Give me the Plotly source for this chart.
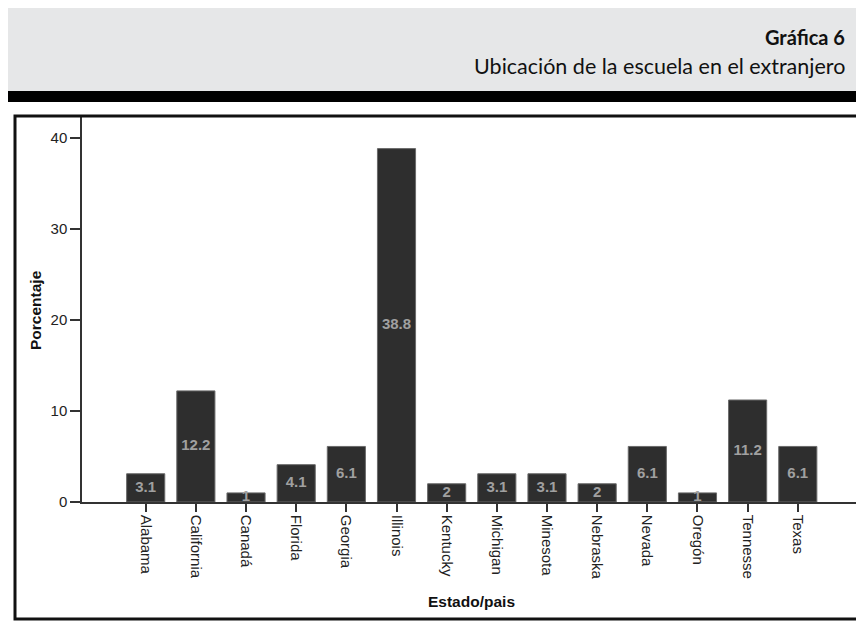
import plotly.graph_objects as go

categories = ["Alabama", "California", "Canadá", "Florida", "Georgia", "Illinois",
              "Kentucky", "Michigan", "Minesota", "Nebraska", "Nevada", "Oregón",
              "Tennesse", "Texas"]
values = [3.1, 12.2, 1, 4.1, 6.1, 38.8, 2, 3.1, 3.1, 2, 6.1, 1, 11.2, 6.1]
value_labels = ["3.1", "12.2", "1", "4.1", "6.1", "38.8", "2", "3.1", "3.1", "2",
                "6.1", "1", "11.2", "6.1"]
y_ticks = [0, 10, 20, 30, 40]

OFF = 8  # page body margin
W, H = 864 - OFF, 631 - 2 * OFF
L, R, T, B = 82 - OFF, 860 - OFF, 117 - OFF, 502 - OFF  # plot area in figure pixels


def px(x):
    return (x - OFF - L) / (R - L)


def py(y):
    return (B - (y - OFF)) / (B - T)


FONT = "Liberation Sans, Arial, sans-serif"

fig = go.Figure()
fig.add_trace(go.Bar(
    x=categories, y=values, width=0.76,
    marker=dict(color="#2e2e2e", line=dict(color="#6a6a6a", width=1)),
    hoverinfo="skip", showlegend=False,
))
fig.add_trace(go.Scatter(
    x=categories, y=[v / 2 for v in values], text=value_labels, mode="text",
    textposition="middle center",
    textfont=dict(family=FONT, size=15, color="#a0a0a0", weight="bold"),
    hoverinfo="skip", showlegend=False, cliponaxis=False,
))

shapes = [
    # header gray band
    dict(type="rect", xref="paper", yref="paper", x0=px(0), x1=px(880), y0=py(91), y1=py(8),
         fillcolor="#e6e7e8", line=dict(width=0), layer="below"),
    # black bar
    dict(type="rect", xref="paper", yref="paper", x0=px(0), x1=px(880), y0=py(102), y1=py(91),
         fillcolor="#000000", line=dict(width=0), layer="below"),
    # chart frame
    dict(type="rect", xref="paper", yref="paper", x0=px(15), x1=px(861), y0=py(619), y1=py(116),
         fillcolor="rgba(0,0,0,0)", line=dict(color="#111111", width=3)),
]

annotations = [
    dict(text="Gráfica 6", xref="paper", yref="paper", x=px(847), y=py(37),
         xanchor="right", yanchor="middle", showarrow=False,
         font=dict(family="Lato, sans-serif", size=20, color="#111111", weight="bold")),
    dict(text="Ubicación de la escuela en el extranjero", xref="paper", yref="paper",
         x=px(847), y=py(66), xanchor="right", yanchor="middle", showarrow=False,
         font=dict(family="Lato, sans-serif", size=21.5, color="#111111")),
    dict(text="Porcentaje", xref="paper", yref="paper", x=px(35), y=py(310),
         xanchor="center", yanchor="middle", showarrow=False, textangle=-90,
         font=dict(family=FONT, size=15.5, color="#111111", weight="bold")),
    dict(text="Estado/pais", xref="paper", yref="paper", x=px(471), y=py(601),
         xanchor="center", yanchor="middle", showarrow=False,
         font=dict(family=FONT, size=15.5, color="#111111", weight="bold")),
]

fig.update_layout(
    width=W, height=H,
    margin=dict(l=L, r=W - R, t=T, b=H - B, pad=0),
    paper_bgcolor="white", plot_bgcolor="white",
    shapes=shapes, annotations=annotations,
    showlegend=False,
    xaxis=dict(
        type="category", range=[-1.27, 14.24], tickangle=90,
        ticks="outside", ticklen=8, tickwidth=1.5, tickcolor="#333333",
        showline=True, linecolor="#333333", linewidth=1.5,
        showgrid=False, zeroline=False,
        tickfont=dict(family=FONT, size=15, color="#222222"),
    ),
    yaxis=dict(
        range=[0, 42.27], tickvals=y_ticks,
        ticks="outside", ticklen=10, tickwidth=1.5, tickcolor="#333333",
        showline=True, linecolor="#333333", linewidth=1.5,
        showgrid=False, zeroline=False,
        tickfont=dict(family=FONT, size=15, color="#222222"),
    ),
)

fig.write_html("out.html")
